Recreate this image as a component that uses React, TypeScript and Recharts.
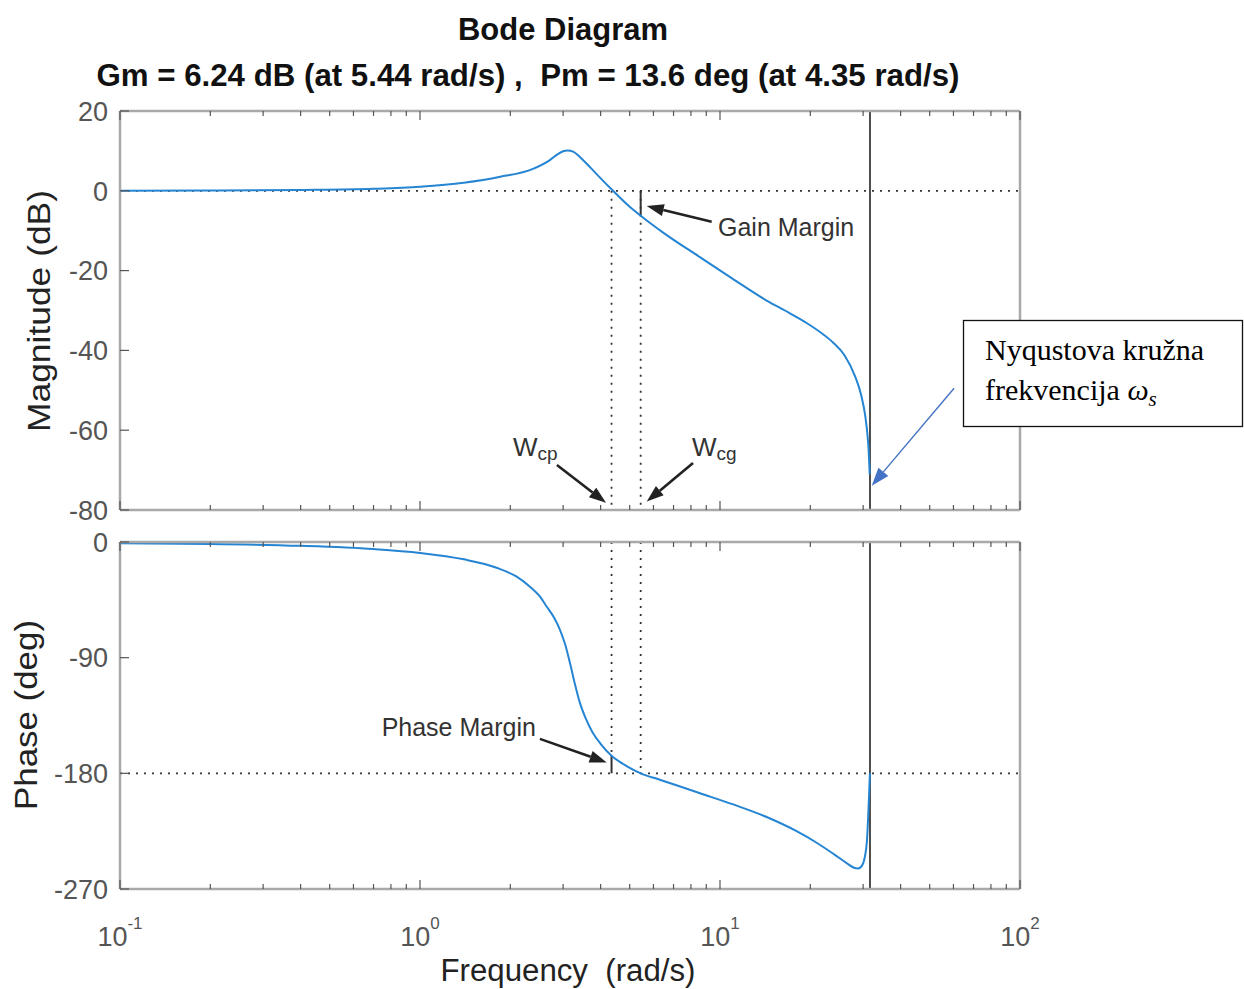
import React from 'react'
import { LineChart, Line, XAxis, YAxis, ReferenceLine, ReferenceDot } from 'recharts'

// magnitude curve (rad/s, dB)
const magFreq = [0.1, 0.2, 0.4, 0.7, 1.0, 1.4, 1.85, 2.38, 2.71, 2.88, 3.0, 3.1, 3.24, 3.41, 3.7, 3.98, 4.4, 5.0, 5.44, 6.5, 8.6, 11, 14.3, 17, 19.5, 22, 23.8, 26, 28.2, 29.5, 30.5, 31.0, 31.3, 31.55]
const magDb = [0, 0.05, 0.2, 0.5, 1.0, 2.0, 3.5, 5.5, 7.7, 9.2, 9.9, 10.1, 9.8, 8.5, 5.8, 3.3, 0, -4, -6.24, -10.6, -16.7, -22, -27.5, -30.6, -33.2, -35.9, -38.0, -41.2, -46.5, -51, -56.5, -61, -65, -71]

// phase curve (rad/s, deg)
const phaseFreq = [0.1, 0.2, 0.4, 0.7, 1.0, 1.4, 1.8, 2.1, 2.33, 2.5, 2.65, 2.8, 2.93, 3.05, 3.16, 3.28, 3.41, 3.58, 3.77, 4.0, 4.35, 4.9, 5.44, 6.3, 7.2, 8.58, 11, 14.3, 18, 21, 24, 26.5, 28.0, 28.9, 29.7, 30.4, 30.9, 31.3, 31.6]
const phaseDeg = [-1, -1.5, -3, -5.5, -8.5, -13.5, -20, -27, -35, -42, -50.6, -59, -68.5, -80, -94, -110, -125, -138, -148.6, -157, -166.4, -174.5, -180, -185, -189.5, -195.5, -204, -214, -225, -234, -243, -250, -253.5, -254, -252, -245, -232, -205, -180]

const decades = [0.1, 1, 10, 100]
const decadeExp = ['-1', '0', '1', '2']
const minorSteps = [2, 3, 4, 5, 6, 7, 8, 9]
const magTicks = [-80, -60, -40, -20, 0, 20]
const phaseTicks = [-270, -180, -90, 0]

const wcp = 4.35
const wcg = 5.44
const gainMargin = 6.24
const phaseMargin = 13.6
const wNyquist = 31.62

const freqTicks = decades.flatMap((d, i) =>
  i < decades.length - 1 ? [d, ...minorSteps.map(m => +(d * m).toPrecision(3))] : [d]
)

const magData = magFreq.map((w, i) => ({ w, mag: magDb[i] }))
const phaseData = phaseFreq.map((w, i) => ({ w, ph: phaseDeg[i] }))

const CURVE = '#2585d3'
const FRAME = '#a9a9a9'
const TICK = '#555'
const LABEL = '#555'
const SANS = '"Liberation Sans", Arial, Helvetica, sans-serif'
const SERIF = '"Liberation Serif", "Times New Roman", serif'

const dotted = { stroke: '#333', strokeWidth: 1.8, strokeDasharray: '2 6' }

function XTick(props: any) {
  const { x, y, payload, top, showLabel } = props
  const di = decades.indexOf(payload.value)
  const len = di >= 0 ? 9 : 5
  return (
    <g>
      <line x1={x} x2={x} y1={y} y2={top ? y + len : y - len} stroke={TICK} strokeWidth={1.2} />
      {showLabel && di >= 0 && (
        <text x={x} y={y + 57} textAnchor="middle" fill={LABEL} fontSize={27} fontFamily={SANS}>
          <tspan>10</tspan>
          <tspan dy={-17} fontSize={17}>{decadeExp[di]}</tspan>
        </text>
      )}
    </g>
  )
}

function YTick(props: any) {
  const { x, y, payload, right } = props
  return (
    <g>
      <line x1={x} x2={right ? x - 9 : x + 9} y1={y} y2={y} stroke={TICK} strokeWidth={1.2} />
      {!right && (
        <text x={x - 12} y={y} dy="0.36em" textAnchor="end" fill={LABEL} fontSize={27} fontFamily={SANS}>
          {payload.value}
        </text>
      )}
    </g>
  )
}

const arrow = (color: string, width: number, head: number, headW: number) => (p: any) => {
  const { x1, y1, x2, y2 } = p
  const dx = x2 - x1
  const dy = y2 - y1
  const L = Math.hypot(dx, dy) || 1
  const ux = dx / L
  const uy = dy / L
  const bx = x2 - ux * head
  const by = y2 - uy * head
  const px = (-uy * headW) / 2
  const py = (ux * headW) / 2
  return (
    <g>
      <line x1={x1} y1={y1} x2={bx} y2={by} stroke={color} strokeWidth={width} />
      <polygon points={`${x2},${y2} ${bx + px},${by + py} ${bx - px},${by - py}`} fill={color} />
    </g>
  )
}

const blackArrow = arrow('#222', 2.6, 17, 12)
const blueArrow = arrow('#4472c4', 1.4, 18, 13)

const note = (text: string) => (p: any) => (
  <text x={p.cx} y={p.cy} dy="0.36em" fill="#333" fontSize={25} fontFamily={SANS}>
    {text}
  </text>
)

const subNote = (main: string, sub: string) => (p: any) => (
  <text x={p.cx} y={p.cy + 9} fill="#333" fontSize={26} fontFamily={SANS}>
    <tspan>{main}</tspan>
    <tspan fontSize={19} dy={4}>{sub}</tspan>
  </text>
)

function axesFor(ticks: number[], domain: [number, number], showX: boolean, bottomHeight: number) {
  return [
    <XAxis
      key="xb"
      dataKey="w"
      type="number"
      scale="log"
      domain={[0.1, 100]}
      allowDataOverflow
      ticks={freqTicks}
      interval={0}
      height={bottomHeight}
      tickSize={0}
      tickMargin={0}
      tickLine={false}
      axisLine={{ stroke: FRAME, strokeWidth: 2.5 }}
      tick={(p: any) => <XTick {...p} showLabel={showX} />}
    />,
    <XAxis
      key="xt"
      xAxisId="t"
      orientation="top"
      dataKey="w"
      type="number"
      scale="log"
      domain={[0.1, 100]}
      allowDataOverflow
      ticks={freqTicks}
      interval={0}
      height={11}
      tickSize={0}
      tickMargin={0}
      tickLine={false}
      axisLine={{ stroke: FRAME, strokeWidth: 2.5 }}
      tick={(p: any) => <XTick {...p} top />}
    />,
    <YAxis
      key="yl"
      type="number"
      domain={domain}
      ticks={ticks}
      interval={0}
      width={110}
      tickSize={0}
      tickMargin={0}
      tickLine={false}
      axisLine={{ stroke: FRAME, strokeWidth: 2.5 }}
      tick={(p: any) => <YTick {...p} />}
    />,
    <YAxis
      key="yr"
      yAxisId="r"
      orientation="right"
      type="number"
      domain={domain}
      ticks={ticks}
      interval={0}
      width={10}
      tickSize={0}
      tickMargin={0}
      tickLine={false}
      axisLine={{ stroke: FRAME, strokeWidth: 2.5 }}
      tick={(p: any) => <YTick {...p} right />}
    />,
  ]
}

export default function App() {
  return (
    <div style={{ position: 'absolute', left: 0, top: 0, width: 1244, height: 989, background: '#fff' }}>
      <div style={{ position: 'absolute', left: 0, top: 0 }}>
        <LineChart width={1244} height={525} data={magData} margin={{ top: 100, right: 214, bottom: 0, left: 10 }}>
          {axesFor(magTicks, [-80, 20], false, 15)}
          <ReferenceLine y={0} {...dotted} />
          <ReferenceLine segment={[{ x: wcp, y: 0 }, { x: wcp, y: -80 }]} {...dotted} />
          <ReferenceLine segment={[{ x: wcg, y: 0 }, { x: wcg, y: -80 }]} {...dotted} />
          <ReferenceLine x={wNyquist} stroke="#222" strokeWidth={1.6} />
          <ReferenceLine segment={[{ x: wcg, y: 0 }, { x: wcg, y: -gainMargin }]} stroke="#333" strokeWidth={2} />
          <Line
            type="monotone"
            dataKey="mag"
            stroke={CURVE}
            strokeWidth={2}
            dot={false}
            activeDot={false}
            isAnimationActive={false}
          />
          <ReferenceLine segment={[{ x: 9.38, y: -7.74 }, { x: 5.7, y: -3.84 }]} shape={blackArrow} />
          <ReferenceDot x={9.85} y={-9} r={0} shape={note('Gain Margin')} />
          <ReferenceLine segment={[{ x: 2.86, y: -68.7 }, { x: 4.17, y: -78.2 }]} shape={blackArrow} />
          <ReferenceDot x={2.04} y={-64.1} r={0} shape={subNote('W', 'cp')} />
          <ReferenceLine segment={[{ x: 8.13, y: -68.2 }, { x: 5.7, y: -77.9 }]} shape={blackArrow} />
          <ReferenceDot x={8.07} y={-64.1} r={0} shape={subNote('W', 'cg')} />
          <ReferenceLine segment={[{ x: 60.3, y: -49.5 }, { x: 32.05, y: -73.9 }]} shape={blueArrow} />
        </LineChart>
      </div>
      <div style={{ position: 'absolute', left: 0, top: 525 }}>
        <LineChart width={1244} height={464} data={phaseData} margin={{ top: 6, right: 214, bottom: 0, left: 10 }}>
          {axesFor(phaseTicks, [-270, 0], true, 100)}
          <ReferenceLine y={-180} {...dotted} />
          <ReferenceLine segment={[{ x: wcp, y: 0 }, { x: wcp, y: -180 + phaseMargin }]} {...dotted} />
          <ReferenceLine segment={[{ x: wcg, y: 0 }, { x: wcg, y: -180 }]} {...dotted} />
          <ReferenceLine x={wNyquist} stroke="#222" strokeWidth={1.6} />
          <ReferenceLine
            segment={[{ x: wcp, y: -180 + phaseMargin }, { x: wcp, y: -180 }]}
            stroke="#333"
            strokeWidth={2}
          />
          <Line
            type="monotone"
            dataKey="ph"
            stroke={CURVE}
            strokeWidth={2}
            dot={false}
            activeDot={false}
            isAnimationActive={false}
          />
          <ReferenceLine segment={[{ x: 2.51, y: -153.2 }, { x: 4.19, y: -171.5 }]} shape={blackArrow} />
          <ReferenceDot x={0.745} y={-144.2} r={0} shape={note('Phase Margin')} />
        </LineChart>
      </div>
      <svg width={1244} height={989} style={{ position: 'absolute', left: 0, top: 0, pointerEvents: 'none' }}>
        <text x={563} y={40} textAnchor="middle" fontSize={32} fontWeight="bold" fontFamily={SANS} fill="#111" textLength={210} lengthAdjust="spacingAndGlyphs">
          Bode Diagram
        </text>
        <text x={528} y={86} textAnchor="middle" fontSize={31} fontWeight="bold" fontFamily={SANS} fill="#111" textLength={863} lengthAdjust="spacingAndGlyphs">
          {'Gm = 6.24 dB (at 5.44 rad/s) ,\u00A0\u00A0Pm = 13.6 deg (at 4.35 rad/s)'}
        </text>
        <text transform="translate(50,311) rotate(-90)" textAnchor="middle" fontSize={32} fontFamily={SANS} fill="#222" textLength={242} lengthAdjust="spacingAndGlyphs">
          Magnitude (dB)
        </text>
        <text transform="translate(37,715) rotate(-90)" textAnchor="middle" fontSize={32} fontFamily={SANS} fill="#222" textLength={190} lengthAdjust="spacingAndGlyphs">
          Phase (deg)
        </text>
        <text x={568} y={981} textAnchor="middle" fontSize={31} fontFamily={SANS} fill="#222" textLength={255} lengthAdjust="spacingAndGlyphs">
          {'Frequency\u00A0\u00A0(rad/s)'}
        </text>
        <rect x={963.5} y={320.5} width={279} height={106} fill="#fff" stroke="#111" strokeWidth={1.3} />
        <text x={985} y={360} fontSize={30} fontFamily={SERIF} fill="#000">
          Nyqustova kružna
        </text>
        <text x={985} y={400} fontSize={30} fontFamily={SERIF} fill="#000">
          frekvencija <tspan fontStyle="italic">ω</tspan>
          <tspan fontStyle="italic" fontSize={21} dy={6}>s</tspan>
        </text>
      </svg>
    </div>
  )
}
